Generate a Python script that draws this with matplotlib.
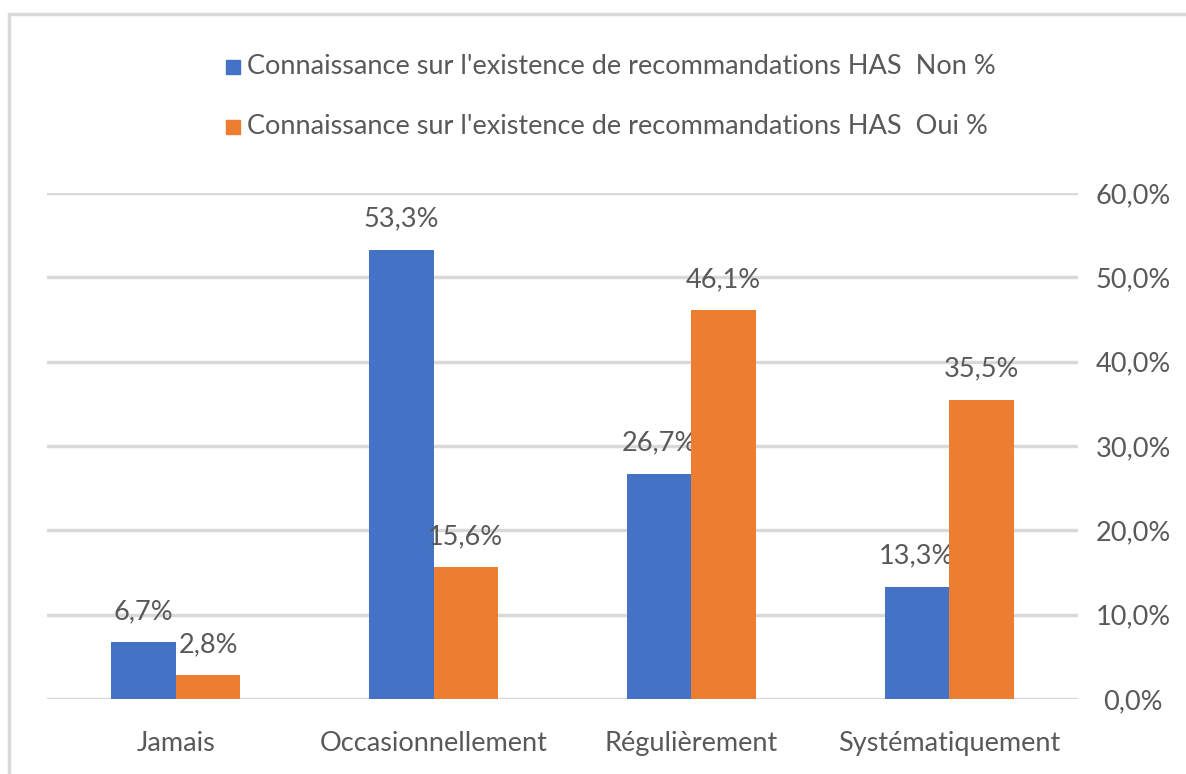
import numpy as np
import matplotlib.pyplot as plt
from matplotlib.patches import Rectangle

categories = ['Jamais', 'Occasionnellement', 'Régulièrement', 'Systématiquement']
series_names = ["Connaissance sur l'existence de recommandations HAS  Non %",
                "Connaissance sur l'existence de recommandations HAS  Oui %"]
non_values = [6.7, 53.3, 26.7, 13.3]
oui_values = [2.8, 15.6, 46.1, 35.5]
y_ticks = [0, 10, 20, 30, 40, 50, 60]

colors = ['#4472C4', '#ED7D31']
text_color = '#595959'
grid_color = '#D9D9D9'
W, H = 1186, 774
fs = 19.5

plt.rcParams['font.family'] = ['Lato', 'DejaVu Sans']

fig = plt.figure(figsize=(W / 100, H / 100), dpi=100)
ax = fig.add_axes([47 / W, 1 - 699 / H, 1031 / W, 506 / H])

x = np.arange(len(categories))
width = 0.25
for i, vals in enumerate([non_values, oui_values]):
    pos = x + (i - 0.5) * width
    ax.bar(pos, vals, width=width, color=colors[i], zorder=3)
    for px, v in zip(pos, vals):
        ax.annotate(('%.1f%%' % v).replace('.', ','), xy=(px, v), xytext=(0, 13),
                    textcoords='offset points', ha='center', va='bottom',
                    fontsize=fs, color=text_color)

ax.set_xlim(-0.5, len(categories) - 0.5)
ax.set_ylim(0, 60)
ax.set_xticks(x)
ax.set_xticklabels(categories, fontsize=fs, color=text_color)
ax.yaxis.tick_right()
ax.set_yticks(y_ticks)
ax.set_yticklabels([('%.1f%%' % t).replace('.', ',') for t in y_ticks],
                   fontsize=fs, color=text_color)
for lab in ax.get_yticklabels():
    lab.set_horizontalalignment('center')
ax.tick_params(axis='y', length=0, pad=39.6)
ax.tick_params(axis='x', length=0, pad=23)
ax.grid(axis='y', color=grid_color, linewidth=2.5, zorder=0)
for s in ax.spines.values():
    s.set_visible(False)

# legend drawn by hand, two rows
for i, name in enumerate(series_names):
    yc = [67, 127][i]
    fig.patches.append(Rectangle((226 / W, 1 - (yc + 7) / H), 14 / W, 14 / H,
                                 transform=fig.transFigure, color=colors[i]))
    fig.text(247 / W, 1 - yc / H, name, ha='left', va='center',
             fontsize=fs, color=text_color)

# chart border (cropped on right and bottom)
fig.patches.append(Rectangle((9 / W, -0.1), 1.2, 1.1 - 14 / H, transform=fig.transFigure,
                             fill=False, edgecolor=grid_color, linewidth=2.5))

fig.savefig('out.png', dpi=100)
